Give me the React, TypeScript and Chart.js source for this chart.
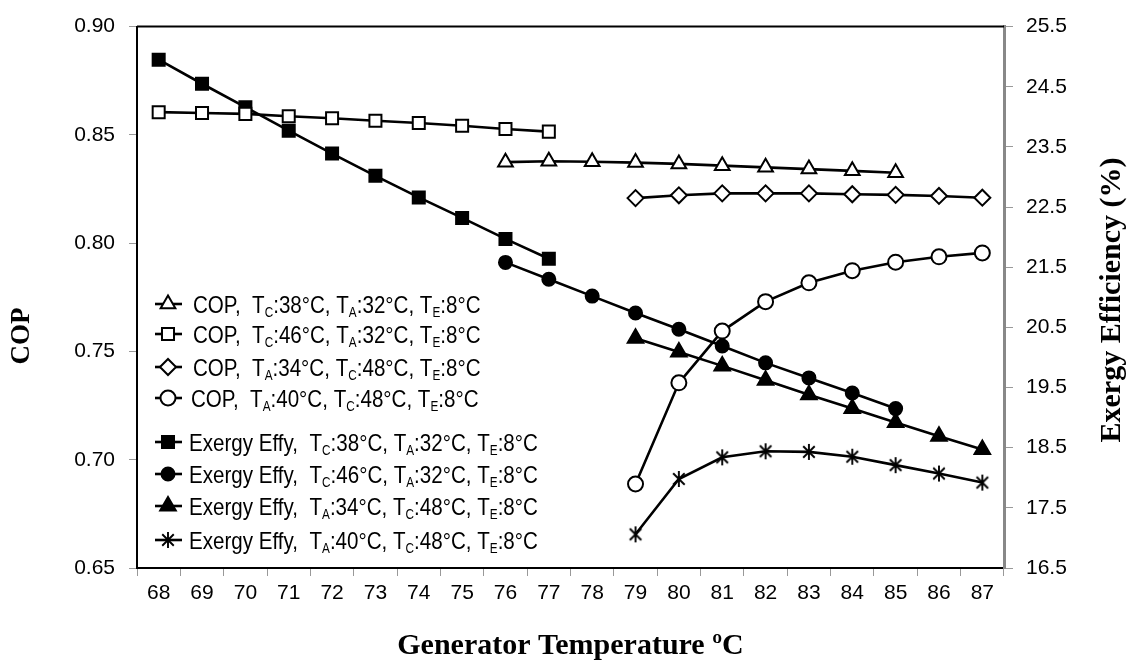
import React, { useEffect, useRef } from 'react';
import { Chart, registerables } from 'chart.js';
import { drawPoint } from 'chart.js/helpers';

Chart.register(...registerables);

// ---------- data ----------
const categories = ['68', '69', '70', '71', '72', '73', '74', '75', '76', '77', '78', '79', '80', '81', '82', '83', '84', '85', '86', '87'];

// COP (left axis)
const copTc38Ta32 = [null, null, null, null, null, null, null, null, 0.8374, 0.8378, 0.8376, 0.8372, 0.8366, 0.8358, 0.8350, 0.8342, 0.8334, 0.8325, null, null];
const copTc46Ta32 = [0.8605, 0.8601, 0.8597, 0.8586, 0.8577, 0.8565, 0.8555, 0.8542, 0.8527, 0.8515, null, null, null, null, null, null, null, null, null, null];
const copTa34Tc48 = [null, null, null, null, null, null, null, null, null, null, null, 0.8208, 0.8221, 0.8230, 0.8230, 0.8230, 0.8226, 0.8223, 0.8218, 0.8210];
const copTa40Tc48 = [null, null, null, null, null, null, null, null, null, null, null, 0.6888, 0.7355, 0.7594, 0.7730, 0.7817, 0.7873, 0.7912, 0.7937, 0.7955];

// Exergy efficiency % (right axis)
const exTc38Ta32 = [24.95, 24.55, 24.16, 23.77, 23.39, 23.02, 22.66, 22.32, 21.97, 21.64, null, null, null, null, null, null, null, null, null, null];
const exTc46Ta32 = [null, null, null, null, null, null, null, null, 21.58, 21.30, 21.02, 20.74, 20.47, 20.19, 19.91, 19.66, 19.41, 19.15, null, null];
const exTa34Tc48 = [null, null, null, null, null, null, null, null, null, null, null, 20.32, 20.09, 19.86, 19.62, 19.38, 19.15, 18.92, 18.69, 18.47];
const exTa40Tc48 = [null, null, null, null, null, null, null, null, null, null, null, 17.06, 17.98, 18.34, 18.44, 18.43, 18.35, 18.21, 18.07, 17.92];

const legendLabels = [
  'COP,  T_C:38°C, T_A:32°C, T_E:8°C',
  'COP,  T_C:46°C, T_A:32°C, T_E:8°C',
  'COP,  T_A:34°C, T_C:48°C, T_E:8°C',
  'COP,  T_A:40°C, T_C:48°C, T_E:8°C',
  'Exergy Effy,  T_C:38°C, T_A:32°C, T_E:8°C',
  'Exergy Effy,  T_C:46°C, T_A:32°C, T_E:8°C',
  'Exergy Effy,  T_A:34°C, T_C:48°C, T_E:8°C',
  'Exergy Effy,  T_A:40°C, T_C:48°C, T_E:8°C',
];

const xTitle = 'Generator Temperature ºC';
const yTitle = 'COP';
const y1Title = 'Exergy Efficiency (%)';

const copMin = 0.65, copMax = 0.90, copStep = 0.05;
const exMin = 16.5, exMax = 25.5, exStep = 1;

// ---------- helpers ----------
function makeStar(size: number, lw: number): HTMLCanvasElement {
  const c = document.createElement('canvas');
  c.width = size; c.height = size;
  const g = c.getContext('2d')!;
  g.strokeStyle = '#000';
  g.lineWidth = lw;
  const m = size / 2, r = size / 2 - 1;
  const d = r * 0.72;
  g.beginPath();
  g.moveTo(m, m - r); g.lineTo(m, m + r);
  g.moveTo(m - d, m - d); g.lineTo(m + d, m + d);
  g.moveTo(m - d, m + d); g.lineTo(m + d, m - d);
  g.stroke();
  return c;
}

function parseLabel(s: string) {
  const parts: { t: string; sub: boolean }[] = [];
  const re = /_(\w)/g;
  let last = 0;
  let m: RegExpExecArray | null;
  while ((m = re.exec(s))) {
    if (m.index > last) parts.push({ t: s.slice(last, m.index), sub: false });
    parts.push({ t: m[1], sub: true });
    last = m.index + 2;
  }
  if (last < s.length) parts.push({ t: s.slice(last), sub: false });
  return parts;
}

const SANS = '"Liberation Sans", Arial, sans-serif';
const SERIF = '"Liberation Serif", "Times New Roman", serif';

export default function App() {
  const ref = useRef<HTMLCanvasElement | null>(null);

  useEffect(() => {
    const canvas = ref.current;
    if (!canvas) return;
    const star = makeStar(18, 1.9);

    const styles: any[] = [
      { pointStyle: 'triangle', radius: 8.5, bg: '#fff' },
      { pointStyle: 'rect', radius: 8.5, bg: '#fff' },
      { pointStyle: 'rectRot', radius: 8, bg: '#fff' },
      { pointStyle: 'circle', radius: 7.5, bg: '#fff' },
      { pointStyle: 'rect', radius: 8.5, bg: '#000' },
      { pointStyle: 'circle', radius: 6.5, bg: '#000' },
      { pointStyle: 'triangle', radius: 9, bg: '#000' },
      { pointStyle: star, radius: 9, bg: '#000' },
    ];
    const series = [copTc38Ta32, copTc46Ta32, copTa34Tc48, copTa40Tc48, exTc38Ta32, exTc46Ta32, exTa34Tc48, exTa40Tc48];

    const datasets = series.map((d, i) => ({
      label: legendLabels[i].replace(/_/g, ''),
      data: d,
      yAxisID: i < 4 ? 'y' : 'y1',
      borderColor: '#000',
      borderWidth: 2.6,
      fill: false,
      tension: 0,
      pointStyle: styles[i].pointStyle,
      pointRadius: styles[i].radius,
      pointBorderWidth: 2,
      pointBackgroundColor: styles[i].bg,
      pointBorderColor: '#000',
    }));

    const overlay = {
      id: 'overlay',
      afterDraw(chart: any) {
        const ctx: CanvasRenderingContext2D = chart.ctx;
        const a = chart.chartArea;
        ctx.save();
        // top frame line
        ctx.strokeStyle = '#000';
        ctx.lineWidth = 2;
        ctx.beginPath();
        ctx.moveTo(a.left, a.top);
        ctx.lineTo(a.right, a.top);
        ctx.stroke();

        // axis titles
        ctx.fillStyle = '#000';
        ctx.textAlign = 'center';
        ctx.textBaseline = 'middle';
        ctx.font = `bold 30px ${SERIF}`;
        ctx.fillText(xTitle, (a.left + a.right) / 2, 646);
        ctx.fillText;
        ctx.save();
        ctx.translate(1112, 300);
        ctx.rotate(-Math.PI / 2);
        ctx.fillText(y1Title, 0, 0);
        ctx.restore();
        ctx.font = `bold 27px ${SERIF}`;
        ctx.save();
        ctx.translate(22, 336);
        ctx.rotate(-Math.PI / 2);
        ctx.fillText(yTitle, 0, 0);
        ctx.restore();

        // legend
        const rowY = [304, 334, 367, 398, 442, 474, 506, 540];
        const textX = [193, 193, 193, 191, 189, 189, 189, 189];
        const F = 24.5, SF = 14, sx = 0.84;
        legendLabels.forEach((lab, i) => {
          const y = rowY[i];
          ctx.strokeStyle = '#000';
          ctx.lineWidth = 2.6;
          ctx.beginPath();
          ctx.moveTo(155, y);
          ctx.lineTo(182, y);
          ctx.stroke();
          ctx.fillStyle = styles[i].bg;
          ctx.strokeStyle = '#000';
          ctx.lineWidth = 2;
          drawPoint(ctx, { pointStyle: styles[i].pointStyle, radius: styles[i].radius, borderWidth: 2, rotation: 0 } as any, 168, y);

          ctx.fillStyle = '#000';
          ctx.textAlign = 'left';
          ctx.textBaseline = 'alphabetic';
          ctx.save();
          ctx.translate(textX[i], y + 0.36 * F);
          ctx.scale(sx, 1);
          let x = 0;
          for (const p of parseLabel(lab)) {
            ctx.font = `${p.sub ? SF : F}px ${SANS}`;
            ctx.fillText(p.t, x, p.sub ? 4 : 0);
            x += ctx.measureText(p.t).width;
          }
          ctx.restore();
        });
        ctx.restore();
      },
    };

    const tickFont = { family: SANS, size: 21 };

    const chart = new Chart(canvas, {
      type: 'line',
      data: { labels: categories, datasets: datasets as any },
      options: {
        responsive: false,
        animation: false,
        devicePixelRatio: 1,
        layout: { padding: { top: 18, left: 0, right: 0, bottom: 0 } },
        plugins: { legend: { display: false }, tooltip: { enabled: false } },
        scales: {
          x: {
            type: 'category',
            offset: true,
            grid: { offset: true, drawOnChartArea: false, drawTicks: true, tickLength: 8, color: '#999', lineWidth: 1 },
            border: { color: '#000', width: 2 },
            ticks: { color: '#000', font: tickFont, padding: 5, maxRotation: 0, autoSkip: false },
            afterFit: (s: any) => { s.height = 96; },
          },
          y: {
            position: 'left',
            min: copMin,
            max: copMax,
            ticks: { stepSize: copStep, color: '#000', font: tickFont, padding: 14, callback: (v: any) => Number(v).toFixed(2) },
            grid: { drawOnChartArea: false, tickLength: 8, color: '#999', lineWidth: 1 },
            border: { color: '#000', width: 2 },
            afterFit: (s: any) => { s.width = 137; },
          },
          y1: {
            position: 'right',
            min: exMin,
            max: exMax,
            ticks: { stepSize: exStep, color: '#000', font: tickFont, padding: 13, callback: (v: any) => Number(v).toFixed(1) },
            grid: { drawOnChartArea: false, tickLength: 9, color: '#999', lineWidth: 1 },
            border: { color: '#888', width: 3 },
            afterFit: (s: any) => { s.width = 133; },
          },
        },
      },
      plugins: [overlay],
    });
    return () => chart.destroy();
  }, []);

  return (
    <div style={{ position: 'absolute', left: 0, top: 0, width: 1137, height: 664, background: '#fff' }}>
      <canvas ref={ref} width={1137} height={664} style={{ display: 'block' }} />
    </div>
  );
}
